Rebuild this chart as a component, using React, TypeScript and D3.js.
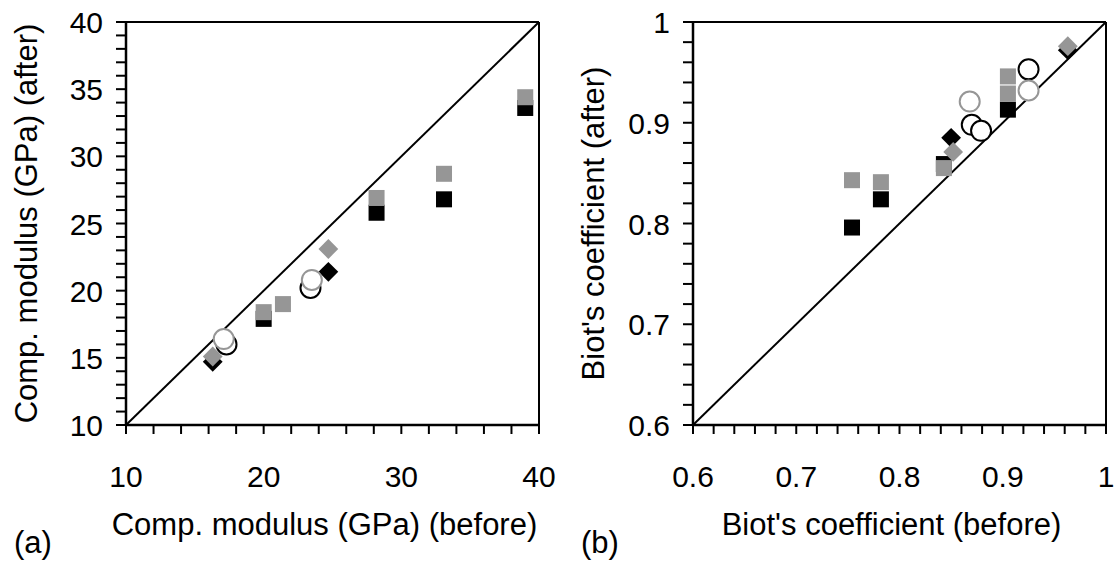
import React from "react";
import * as d3 from "d3";

// ---------- Data ----------
// Panel (a): compressive modulus (GPa), before vs after
const aBlackSquares: [number, number][] = [[20.0, 17.9], [28.2, 25.8], [33.1, 26.8], [39.0, 33.6]];
const aGraySquares: [number, number][] = [[20.0, 18.4], [21.4, 19.0], [28.2, 26.9], [33.1, 28.7], [39.0, 34.4]];
const aBlackDiamonds: [number, number][] = [[16.3, 14.7], [24.7, 21.4]];
const aGrayDiamonds: [number, number][] = [[16.3, 15.1], [24.7, 23.1]];
const aBlackCircles: [number, number][] = [[17.3, 16.0], [23.4, 20.2]];
const aGrayCircles: [number, number][] = [[17.1, 16.4], [23.5, 20.8]];

// Panel (b): Biot's coefficient, before vs after
const bBlackSquares: [number, number][] = [[0.754, 0.796], [0.782, 0.824], [0.843, 0.859], [0.905, 0.913]];
const bGraySquares: [number, number][] = [[0.754, 0.843], [0.782, 0.841], [0.843, 0.855], [0.905, 0.929], [0.905, 0.946]];
const bBlackDiamonds: [number, number][] = [[0.850, 0.885], [0.963, 0.972]];
const bGrayDiamonds: [number, number][] = [[0.852, 0.871], [0.963, 0.976]];
const bBlackCircles: [number, number][] = [[0.870, 0.898], [0.879, 0.892], [0.925, 0.953]];
const bGrayCircles: [number, number][] = [[0.868, 0.921], [0.925, 0.932]];

const aMajorX = [10, 20, 30, 40];
const aMajorY = [10, 15, 20, 25, 30, 35, 40];
const bMajor = [0.6, 0.7, 0.8, 0.9, 1.0];
const bTickLabels = ["0.6", "0.7", "0.8", "0.9", "1"];

const BLACK = "#000000";
const GRAY = "#969696";
const FONT = "'Liberation Sans', Arial, Helvetica, sans-serif";

type Pt = [number, number];

interface PanelProps {
  domain: [number, number];
  xRange: [number, number];
  yRange: [number, number];
  majorX: number[];
  majorY: number[];
  minorXStep: number;
  minorYStep: number;
  xLabels: string[];
  yLabels: string[];
  xTitle: string;
  yTitle: string;
  tag: string;
  series: { pts: Pt[]; shape: "square" | "diamond" | "circle"; color: string }[];
}

function Panel(p: PanelProps) {
  const x = d3.scaleLinear().domain(p.domain).range(p.xRange);
  const y = d3.scaleLinear().domain(p.domain).range(p.yRange);
  const [d0, d1] = p.domain;
  const eps = 1e-9;
  const minorX = d3.range(d0, d1 + eps, p.minorXStep);
  const minorY = d3.range(d0, d1 + eps, p.minorYStep);
  const left = p.xRange[0], right = p.xRange[1];
  const bottom = p.yRange[0], top = p.yRange[1];
  const sq = 16;
  const dm = 14;
  return (
    <g>
      {/* frame */}
      <line x1={left} y1={top} x2={right} y2={top} stroke={BLACK} strokeWidth={2} />
      <line x1={right} y1={top} x2={right} y2={bottom} stroke={BLACK} strokeWidth={2} />
      {/* diagonal 1:1 */}
      <line x1={x(d0)} y1={y(d0)} x2={x(d1)} y2={y(d1)} stroke={BLACK} strokeWidth={2} />
      {/* markers */}
      {p.series.map((s, si) =>
        s.pts.map((pt, i) => {
          const cx = x(pt[0]);
          const cy = y(pt[1]);
          if (s.shape === "square")
            return <rect key={`${si}-${i}`} x={cx - sq / 2} y={cy - sq / 2} width={sq} height={sq} fill={s.color} />;
          if (s.shape === "diamond")
            return (
              <rect key={`${si}-${i}`} x={-dm / 2} y={-dm / 2} width={dm} height={dm} fill={s.color}
                transform={`translate(${cx},${cy}) rotate(45)`} />
            );
          return <circle key={`${si}-${i}`} cx={cx} cy={cy} r={10} fill="#fff" stroke={s.color} strokeWidth={2} />;
        })
      )}
      {/* axes */}
      <line x1={left} y1={top} x2={left} y2={bottom} stroke={BLACK} strokeWidth={2.5} />
      <line x1={left} y1={bottom} x2={right} y2={bottom} stroke={BLACK} strokeWidth={2.5} />
      {minorX.map((v, i) => (
        <line key={`mx${i}`} x1={x(v)} x2={x(v)} y1={bottom} y2={bottom + 9} stroke={BLACK} strokeWidth={2} />
      ))}
      {minorY.map((v, i) => (
        <line key={`my${i}`} x1={left - 10} x2={left} y1={y(v)} y2={y(v)} stroke={BLACK} strokeWidth={2} />
      ))}
      {p.majorX.map((v, i) => (
        <text key={`lx${i}`} x={x(v)} y={bottom + 62} textAnchor="middle" fontFamily={FONT} fontSize={30} fill={BLACK}>
          {p.xLabels[i]}
        </text>
      ))}
      {p.majorY.map((v, i) => (
        <text key={`ly${i}`} x={left - 23} y={y(v) + 11} textAnchor="end" fontFamily={FONT} fontSize={30} fill={BLACK}>
          {p.yLabels[i]}
        </text>
      ))}
      <text x={(left + right) / 2 - 8} y={bottom + 110} textAnchor="middle" fontFamily={FONT} fontSize={31} fill={BLACK}>
        {p.xTitle}
      </text>
      <text transform={`translate(${left - 89},${(top + bottom) / 2}) rotate(-90)`} textAnchor="middle"
        fontFamily={FONT} fontSize={31} fill={BLACK}>
        {p.yTitle}
      </text>
      <text x={left - 112} y={bottom + 128} fontFamily={FONT} fontSize={31} fill={BLACK}>
        {p.tag}
      </text>
    </g>
  );
}

export default function App() {
  return (
    <div style={{ position: "absolute", left: 0, top: 0 }}>
      <svg width={1117} height={567} style={{ display: "block", background: "#fff" }}>
        <Panel
          domain={[10, 40]}
          xRange={[126, 539]}
          yRange={[425, 22]}
          majorX={aMajorX}
          majorY={aMajorY}
          minorXStep={2}
          minorYStep={1}
          xLabels={aMajorX.map(String)}
          yLabels={aMajorY.map(String)}
          xTitle="Comp. modulus (GPa) (before)"
          yTitle="Comp. modulus (GPa) (after)"
          tag="(a)"
          series={[
            { pts: aBlackSquares, shape: "square", color: BLACK },
            { pts: aGraySquares, shape: "square", color: GRAY },
            { pts: aBlackDiamonds, shape: "diamond", color: BLACK },
            { pts: aGrayDiamonds, shape: "diamond", color: GRAY },
            { pts: aBlackCircles, shape: "circle", color: BLACK },
            { pts: aGrayCircles, shape: "circle", color: GRAY },
          ]}
        />
        <Panel
          domain={[0.6, 1.0]}
          xRange={[693, 1106]}
          yRange={[425, 22]}
          majorX={bMajor}
          majorY={bMajor}
          minorXStep={0.02}
          minorYStep={0.02}
          xLabels={bTickLabels}
          yLabels={bTickLabels}
          xTitle="Biot's coefficient (before)"
          yTitle="Biot's coefficient (after)"
          tag="(b)"
          series={[
            { pts: bBlackSquares, shape: "square", color: BLACK },
            { pts: bGraySquares, shape: "square", color: GRAY },
            { pts: bBlackDiamonds, shape: "diamond", color: BLACK },
            { pts: bGrayDiamonds, shape: "diamond", color: GRAY },
            { pts: bBlackCircles, shape: "circle", color: BLACK },
            { pts: bGrayCircles, shape: "circle", color: GRAY },
          ]}
        />
      </svg>
    </div>
  );
}
